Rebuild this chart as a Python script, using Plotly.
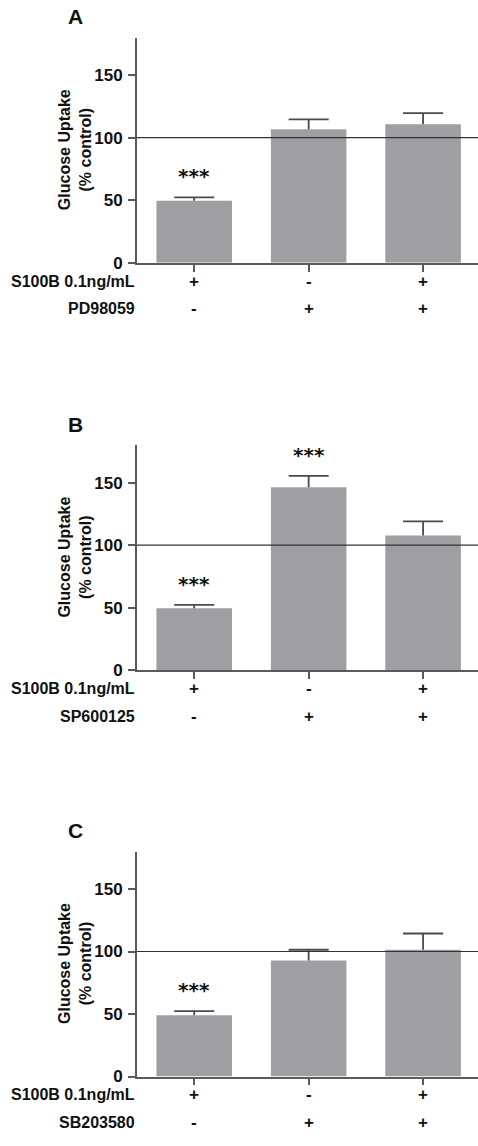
import plotly.graph_objects as go

# ---------------- data ----------------
panel_letters = ["A", "B", "C"]
inhibitor_names = ["PD98059", "SP600125", "SB203580"]
s100b_signs = ["+", "-", "+"]
inhibitor_signs = ["-", "+", "+"]
x_pos = [0, 1, 2]

means_A = [49.6, 106.8, 110.8]
err_A = [2.6, 7.9, 8.9]
means_B = [49.4, 146.3, 107.7]
err_B = [2.7, 9.0, 11.3]
means_C = [49.1, 92.9, 101.4]
err_C = [3.2, 8.5, 13.0]

sig_A = ["***", "", ""]
sig_B = ["***", "***", ""]
sig_C = ["***", "", ""]

y_ticks = [0, 50, 100, 150]
y_max = 180
control_level = 100
row_label_s100b = "S100B 0.1ng/mL"
y_title = "Glucose Uptake<br>(% control)"

# ---------------- layout helpers ----------------
W, H = 478, 1146
FONT = "Liberation Sans, Arial, sans-serif"
BAR_COLOR = "#9f9fa3"
AX_COLOR = "#5a5a5a"
CAP_HALF = 0.175  # half cap width in category units


def px(x):
    return x / W


def py(y):
    return 1 - y / H


panels = [
    (means_A, err_A, sig_A, 38, 265),
    (means_B, err_B, sig_B, 449, 676),
    (means_C, err_C, sig_C, 859, 1086),
]
x_left, x_right = 137, 478

fig = go.Figure()
annotations = []
shapes = []
layout = {}

for i, (means, errs, sigs, top_px, zero_px) in enumerate(panels):
    n = "" if i == 0 else str(i + 1)
    xa, ya = "x" + n, "y" + n
    fig.add_trace(go.Bar(
        x=x_pos, y=means, xaxis=xa, yaxis=ya, width=0.66,
        marker=dict(color=BAR_COLOR, line=dict(width=0)),
        showlegend=False, hoverinfo="skip",
    ))
    # upward-only error bars (stem + cap)
    ex, ey = [], []
    for xv, m, e in zip(x_pos, means, errs):
        ex += [xv, xv, None, xv - CAP_HALF, xv + CAP_HALF, None]
        ey += [m, m + e, None, m + e, m + e, None]
    fig.add_trace(go.Scatter(
        x=ex, y=ey, xaxis=xa, yaxis=ya, mode="lines",
        line=dict(color="#4a4a4a", width=1.8), showlegend=False,
        hoverinfo="skip", cliponaxis=False,
    ))
    layout["xaxis" + n] = dict(
        domain=[px(x_left), px(x_right)], range=[-0.5, 2.48],
        anchor=ya, showgrid=False, zeroline=False, showline=True,
        linecolor=AX_COLOR, linewidth=1.8, ticks="outside", ticklen=7,
        tickwidth=1.8, tickcolor=AX_COLOR, tickvals=x_pos,
        showticklabels=False, fixedrange=True,
    )
    layout["yaxis" + n] = dict(
        domain=[py(zero_px), py(top_px)], range=[0, y_max],
        anchor=xa, showgrid=False, zeroline=False, showline=True,
        linecolor=AX_COLOR, linewidth=1.8, ticks="outside", ticklen=7,
        tickwidth=1.8, tickcolor=AX_COLOR, tickvals=y_ticks,
        tickfont=dict(family=FONT, size=17, color="#111", weight="bold"),
        ticklabelstandoff=2, fixedrange=True,
    )
    # control line at 100%
    shapes.append(dict(type="line", xref=xa + " domain", yref=ya,
                       x0=0, x1=1, y0=control_level, y1=control_level,
                       line=dict(color="#333333", width=1.2), layer="above"))
    # significance stars
    for xv, m, e, s in zip(x_pos, means, errs, sigs):
        if s:
            annotations.append(dict(
                x=xv, y=m + e + 17, xref=xa, yref=ya, text=s,
                showarrow=False, yanchor="middle", xanchor="center",
                font=dict(family="DejaVu Sans", size=20, color="#111",
                          weight="bold")))
    # panel letter
    annotations.append(dict(
        x=px(75), y=py(top_px - 21), xref="paper", yref="paper",
        text=panel_letters[i], showarrow=False, xanchor="center",
        yanchor="middle",
        font=dict(family=FONT, size=21, color="#111", weight="bold")))
    # y title
    annotations.append(dict(
        x=px(75), y=py((top_px + zero_px) / 2), xref="paper", yref="paper",
        text=y_title, textangle=-90, showarrow=False, xanchor="center",
        yanchor="middle",
        font=dict(family=FONT, size=16, color="#111", weight="bold")))
    # row labels
    rows = [(row_label_s100b, s100b_signs, zero_px + 18.5),
            (inhibitor_names[i], inhibitor_signs, zero_px + 46.5)]
    for label, signs, ypix in rows:
        annotations.append(dict(
            x=px(137), y=py(ypix), xref="paper", yref="paper", text=label,
            showarrow=False, xanchor="right", yanchor="middle",
            font=dict(family=FONT, size=16, color="#111", weight="bold")))
        for xv, sg in zip(x_pos, signs):
            annotations.append(dict(
                x=xv, y=py(ypix), xref=xa, yref="paper", text=sg,
                showarrow=False, xanchor="center", yanchor="middle",
                font=dict(family=FONT, size=17, color="#111", weight="bold")))

fig.update_layout(
    width=W, height=H, margin=dict(l=0, r=0, t=0, b=0),
    paper_bgcolor="white", plot_bgcolor="white",
    annotations=annotations, shapes=shapes,
    **layout,
)

fig.write_html("out.html")
